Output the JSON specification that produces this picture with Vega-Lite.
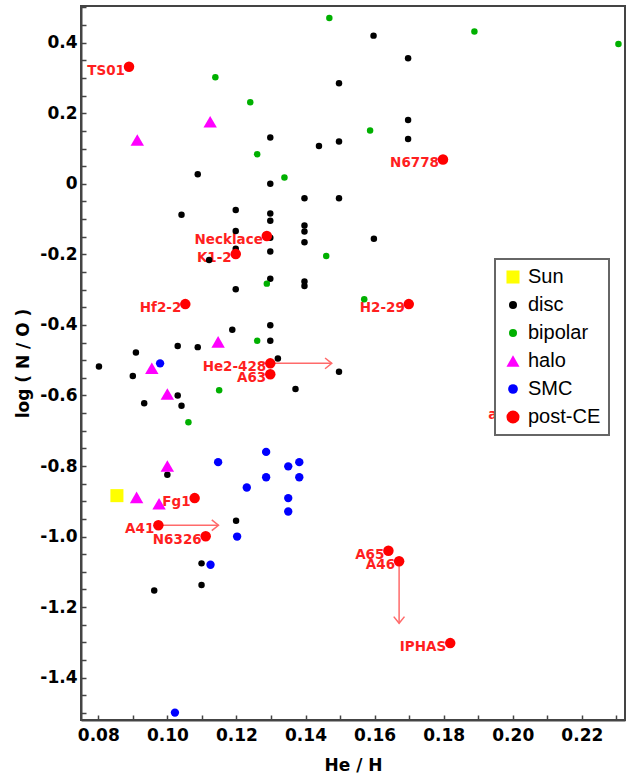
{
  "$schema": "https://vega.github.io/schema/vega-lite/v6.json",
  "width": 544,
  "height": 714,
  "autosize": {"type": "none"},
  "padding": {"left": 81, "top": 6, "right": 3, "bottom": 55},
  "background": "white",
  "datasets": {
    "pts": [
      {"t": "disc", "x": 0.1088, "y": 0.027},
      {"t": "disc", "x": 0.1597, "y": 0.420},
      {"t": "disc", "x": 0.1697, "y": 0.356},
      {"t": "disc", "x": 0.1497, "y": 0.285},
      {"t": "disc", "x": 0.1697, "y": 0.181},
      {"t": "disc", "x": 0.1697, "y": 0.127},
      {"t": "disc", "x": 0.1298, "y": 0.131},
      {"t": "disc", "x": 0.1439, "y": 0.107},
      {"t": "disc", "x": 0.1497, "y": 0.120},
      {"t": "disc", "x": 0.1298, "y": 0.0},
      {"t": "disc", "x": 0.1397, "y": -0.041},
      {"t": "disc", "x": 0.1497, "y": -0.041},
      {"t": "disc", "x": 0.1397, "y": -0.118},
      {"t": "disc", "x": 0.1397, "y": -0.135},
      {"t": "disc", "x": 0.1397, "y": -0.166},
      {"t": "disc", "x": 0.1598, "y": -0.156},
      {"t": "disc", "x": 0.1041, "y": -0.088},
      {"t": "disc", "x": 0.1198, "y": -0.074},
      {"t": "disc", "x": 0.1298, "y": -0.084},
      {"t": "disc", "x": 0.1298, "y": -0.105},
      {"t": "disc", "x": 0.1198, "y": -0.134},
      {"t": "disc", "x": 0.1298, "y": -0.153},
      {"t": "disc", "x": 0.1298, "y": -0.192},
      {"t": "disc", "x": 0.1198, "y": -0.184},
      {"t": "disc", "x": 0.1121, "y": -0.216},
      {"t": "disc", "x": 0.1198, "y": -0.299},
      {"t": "disc", "x": 0.1298, "y": -0.269},
      {"t": "disc", "x": 0.1397, "y": -0.277},
      {"t": "disc", "x": 0.1397, "y": -0.290},
      {"t": "disc", "x": 0.1188, "y": -0.414},
      {"t": "disc", "x": 0.1298, "y": -0.401},
      {"t": "disc", "x": 0.1298, "y": -0.445},
      {"t": "disc", "x": 0.1030, "y": -0.460},
      {"t": "disc", "x": 0.1088, "y": -0.463},
      {"t": "disc", "x": 0.0909, "y": -0.478},
      {"t": "disc", "x": 0.0802, "y": -0.518},
      {"t": "disc", "x": 0.0900, "y": -0.545},
      {"t": "disc", "x": 0.1320, "y": -0.495},
      {"t": "disc", "x": 0.1497, "y": -0.533},
      {"t": "disc", "x": 0.1371, "y": -0.582},
      {"t": "disc", "x": 0.1030, "y": -0.600},
      {"t": "disc", "x": 0.0933, "y": -0.622},
      {"t": "disc", "x": 0.1041, "y": -0.629},
      {"t": "disc", "x": 0.1000, "y": -0.825},
      {"t": "disc", "x": 0.1199, "y": -0.955},
      {"t": "disc", "x": 0.1099, "y": -1.076},
      {"t": "disc", "x": 0.1099, "y": -1.137},
      {"t": "disc", "x": 0.0962, "y": -1.153},
      {"t": "bipolar", "x": 0.1469, "y": 0.470},
      {"t": "bipolar", "x": 0.1889, "y": 0.432},
      {"t": "bipolar", "x": 0.2306, "y": 0.396},
      {"t": "bipolar", "x": 0.1139, "y": 0.302},
      {"t": "bipolar", "x": 0.1240, "y": 0.231},
      {"t": "bipolar", "x": 0.1587, "y": 0.151},
      {"t": "bipolar", "x": 0.1260, "y": 0.084},
      {"t": "bipolar", "x": 0.1339, "y": 0.018},
      {"t": "bipolar", "x": 0.1460, "y": -0.205},
      {"t": "bipolar", "x": 0.1288, "y": -0.283},
      {"t": "bipolar", "x": 0.1570, "y": -0.327},
      {"t": "bipolar", "x": 0.1260, "y": -0.445},
      {"t": "bipolar", "x": 0.1150, "y": -0.585},
      {"t": "bipolar", "x": 0.1061, "y": -0.676},
      {"t": "halo", "x": 0.0913, "y": 0.124},
      {"t": "halo", "x": 0.1124, "y": 0.176},
      {"t": "halo", "x": 0.1147, "y": -0.448},
      {"t": "halo", "x": 0.0955, "y": -0.523},
      {"t": "halo", "x": 0.1000, "y": -0.596},
      {"t": "halo", "x": 0.1000, "y": -0.800},
      {"t": "halo", "x": 0.0911, "y": -0.889},
      {"t": "halo", "x": 0.0976, "y": -0.907},
      {"t": "SMC", "x": 0.0979, "y": -0.509},
      {"t": "SMC", "x": 0.1286, "y": -0.760},
      {"t": "SMC", "x": 0.1147, "y": -0.789},
      {"t": "SMC", "x": 0.1350, "y": -0.801},
      {"t": "SMC", "x": 0.1382, "y": -0.789},
      {"t": "SMC", "x": 0.1286, "y": -0.832},
      {"t": "SMC", "x": 0.1382, "y": -0.832},
      {"t": "SMC", "x": 0.1230, "y": -0.861},
      {"t": "SMC", "x": 0.1350, "y": -0.891},
      {"t": "SMC", "x": 0.1350, "y": -0.929},
      {"t": "SMC", "x": 0.1202, "y": -1.000},
      {"t": "SMC", "x": 0.1125, "y": -1.080},
      {"t": "SMC", "x": 0.1022, "y": -1.499},
      {"t": "Sun", "x": 0.0854, "y": -0.884},
      {"t": "post-CE", "x": 0.0889, "y": 0.332},
      {"t": "post-CE", "x": 0.1798, "y": 0.069},
      {"t": "post-CE", "x": 0.1288, "y": -0.148},
      {"t": "post-CE", "x": 0.1198, "y": -0.199},
      {"t": "post-CE", "x": 0.1052, "y": -0.341},
      {"t": "post-CE", "x": 0.1699, "y": -0.341},
      {"t": "post-CE", "x": 0.1298, "y": -0.509},
      {"t": "post-CE", "x": 0.1298, "y": -0.540},
      {"t": "post-CE", "x": 0.1079, "y": -0.891},
      {"t": "post-CE", "x": 0.0974, "y": -0.968},
      {"t": "post-CE", "x": 0.1111, "y": -0.999},
      {"t": "post-CE", "x": 0.1640, "y": -1.040},
      {"t": "post-CE", "x": 0.1671, "y": -1.070},
      {"t": "post-CE", "x": 0.1819, "y": -1.302}
    ],
    "labels": [
      {"name": "TS01", "x": 0.0889, "y": 0.332},
      {"name": "N6778", "x": 0.1798, "y": 0.069},
      {"name": "Necklace", "x": 0.1288, "y": -0.148},
      {"name": "K1-2", "x": 0.1198, "y": -0.199},
      {"name": "Hf2-2", "x": 0.1052, "y": -0.341},
      {"name": "H2-29", "x": 0.1699, "y": -0.341},
      {"name": "He2-428", "x": 0.1298, "y": -0.509},
      {"name": "A63", "x": 0.1298, "y": -0.540},
      {"name": "Fg1", "x": 0.1079, "y": -0.891},
      {"name": "A41", "x": 0.0974, "y": -0.968},
      {"name": "N6326", "x": 0.1111, "y": -0.999},
      {"name": "A65", "x": 0.1640, "y": -1.040},
      {"name": "A46", "x": 0.1671, "y": -1.070},
      {"name": "IPHAS", "x": 0.1819, "y": -1.302},
      {"name": "a", "x": 0.1967, "y": -0.644}
    ],
    "arrows": [
      {"x": 0.1298, "y": -0.509, "x2": 0.1476, "y2": -0.509, "dir": "right"},
      {"x": 0.0974, "y": -0.968, "x2": 0.1148, "y2": -0.968, "dir": "right"},
      {"x": 0.1671, "y": -1.070, "x2": 0.1671, "y2": -1.246, "dir": "down"}
    ]
  },
  "layer": [
    {
      "data": {"name": "arrows"},
      "mark": {"type": "rule", "color": "#ff6a6a", "strokeWidth": 1.5},
      "encoding": {
        "x": {"field": "x", "type": "quantitative"},
        "y": {"field": "y", "type": "quantitative"},
        "x2": {"field": "x2"},
        "y2": {"field": "y2"}
      }
    },
    {
      "data": {"name": "arrows"},
      "transform": [{"filter": "datum.dir == 'right'"}],
      "mark": {"type": "point", "shape": "M-1,-0.8L0,0L-1,0.8", "filled": false, "stroke": "#ff6a6a", "strokeWidth": 1.5, "size": 180, "opacity": 1},
      "encoding": {
        "x": {"field": "x2", "type": "quantitative"},
        "y": {"field": "y2", "type": "quantitative"}
      }
    },
    {
      "data": {"name": "arrows"},
      "transform": [{"filter": "datum.dir == 'down'"}],
      "mark": {"type": "point", "shape": "M-0.8,-1L0,0L0.8,-1", "filled": false, "stroke": "#ff6a6a", "strokeWidth": 1.5, "size": 180, "opacity": 1},
      "encoding": {
        "x": {"field": "x2", "type": "quantitative"},
        "y": {"field": "y2", "type": "quantitative"}
      }
    },
    {
      "data": {"name": "labels"},
      "mark": {"type": "text", "align": "right", "baseline": "middle", "dx": -4, "dy": 4, "font": "DejaVu Sans", "fontWeight": "bold", "fontSize": 13.5, "color": "#ff1f1f"},
      "encoding": {
        "x": {"field": "x", "type": "quantitative"},
        "y": {"field": "y", "type": "quantitative"},
        "text": {"field": "name", "type": "nominal"}
      }
    },
    {
      "data": {"name": "pts"},
      "mark": {"type": "point", "filled": true, "opacity": 1, "strokeWidth": 0},
      "encoding": {
        "x": {"field": "x", "type": "quantitative",
          "scale": {"domain": [0.075, 0.2325], "nice": false, "zero": false},
          "axis": {
            "title": "He / H",
            "values": [0.08, 0.09, 0.1, 0.11, 0.12, 0.13, 0.14, 0.15, 0.16, 0.17, 0.18, 0.19, 0.2, 0.21, 0.22, 0.23],
            "tickCount": 200,
            "labelExpr": "round(datum.value*100) % 2 == 0 ? format(datum.value, '.2f') : ''",
            "labelOverlap": false,
            "labelPadding": 12,
            "titlePadding": 14
          }
        },
        "y": {"field": "y", "type": "quantitative",
          "scale": {"domain": [-1.52, 0.504], "nice": false, "zero": false},
          "axis": {
            "title": "log ( N / O )",
            "values": [-1.5, -1.45, -1.4, -1.35, -1.3, -1.25, -1.2, -1.15, -1.1, -1.05, -1, -0.95, -0.9, -0.85, -0.8, -0.75, -0.7, -0.65, -0.6, -0.55, -0.5, -0.45, -0.4, -0.35, -0.3, -0.25, -0.2, -0.15, -0.1, -0.05, 0, 0.05, 0.1, 0.15, 0.2, 0.25, 0.3, 0.35, 0.4, 0.45, 0.5],
            "tickCount": 200,
            "labelExpr": "abs(round(datum.value*100)) % 20 == 0 ? (abs(datum.value) < 0.001 ? '0' : ((datum.value < 0 ? '-' : '') + format(abs(datum.value), '.1f'))) : ''",
            "labelOverlap": false,
            "labelPadding": 9,
            "titlePadding": 7
          }
        },
        "size": {
          "condition": [
            {"test": "datum.t == 'post-CE'", "value": 110},
            {"test": "datum.t == 'halo'", "value": 180},
            {"test": "datum.t == 'Sun'", "value": 170},
            {"test": "datum.t == 'SMC'", "value": 70}
          ],
          "value": 42
        },
        "color": {"field": "t", "type": "nominal",
          "scale": {"domain": ["Sun", "disc", "bipolar", "halo", "SMC", "post-CE"], "range": ["#ffff00", "#000000", "#00b000", "#ff00ff", "#0000ff", "#ff0000"]},
          "legend": {"title": null, "orient": "none", "legendX": 414, "legendY": 253,
            "encode": {"symbols": {"update": {"size": {"signal": "datum.value == 'post-CE' ? 170 : datum.value == 'halo' ? 170 : datum.value == 'Sun' ? 170 : datum.value == 'SMC' ? 95 : 64"}}}}}
        },
        "shape": {"field": "t", "type": "nominal",
          "scale": {"domain": ["Sun", "disc", "bipolar", "halo", "SMC", "post-CE"], "range": ["square", "circle", "circle", "triangle-up", "circle", "circle"]},
          "legend": {"title": null, "orient": "none", "legendX": 414, "legendY": 253,
            "encode": {"symbols": {"update": {"size": {"signal": "datum.value == 'post-CE' ? 170 : datum.value == 'halo' ? 170 : datum.value == 'Sun' ? 170 : datum.value == 'SMC' ? 95 : 64"}}}}}
        }
      }
    }
  ],
  "config": {
    "view": {"stroke": "#444444", "strokeWidth": 2},
    "axis": {
      "grid": false,
      "domainColor": "#444444",
      "domainWidth": 2,
      "tickColor": "#444444",
      "tickWidth": 1.5,
      "tickSize": -5,
      "labelFont": "DejaVu Sans",
      "labelFontWeight": "bold",
      "labelFontSize": 17,
      "labelColor": "#000000",
      "titleFont": "DejaVu Sans",
      "titleFontWeight": "bold",
      "titleFontSize": 17,
      "titleColor": "#000000",
      "labelOverlap": false,
      "labelBound": false,
      "labelFlush": false
    },
    "legend": {
      "padding": 8,
      "strokeColor": "#666666",
      "strokeWidth": 2,
      "fillColor": "#ffffff",
      "labelFont": "Liberation Sans",
      "labelFontSize": 20,
      "labelColor": "#000000",
      "labelOffset": 5,
      "rowPadding": 8,
      "symbolSize": 170,
      "symbolStrokeWidth": 0,
      "symbolOpacity": 1,
      "cornerRadius": 0
    }
  }
}
